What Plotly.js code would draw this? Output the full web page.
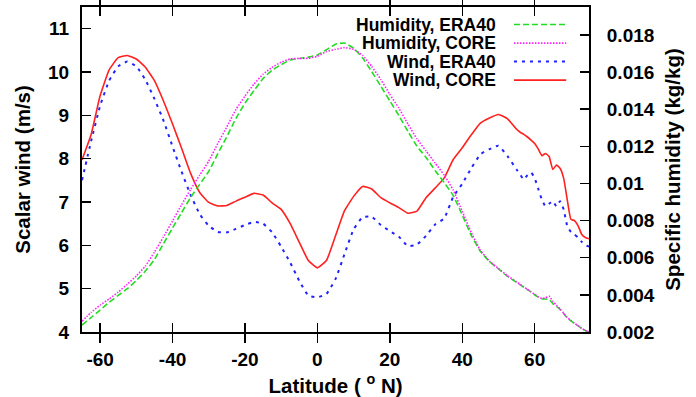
<!DOCTYPE html>
<html>
<head>
<meta charset="utf-8">
<script src="https://cdn.plot.ly/plotly-3.0.1.min.js"></script>
<style>html,body{margin:0;padding:0;background:#fff;}#chart{width:696px;height:397px;}</style>
</head>
<body>
<div id="chart"></div>
<script>
var latitude = [-65,-62.5,-60,-57.5,-55,-52.5,-50,-47.5,-45,-42.5,-40,-37.5,-35,-32.5,-30,-27.5,-25,-22.5,-20,-17.5,-15,-12.5,-10,-7.5,-5,-2.5,0,2.5,5,7.5,10,12.5,15,17.5,20,22.5,25,27.5,30,32.5,35,37.5,40,42.5,45,47.5,50,52.5,55,56,57,58,59,60,61,62,63,64,65,66,67,68,69,70,71,72,73,74,75];

var windCORE = [7.97,8.55,9.45,10.05,10.33,10.38,10.30,10.11,9.80,9.33,8.80,8.24,7.66,7.22,6.99,6.91,6.92,7.02,7.11,7.20,7.16,6.98,6.83,6.50,6.07,5.65,5.48,5.65,6.22,6.80,7.13,7.36,7.30,7.10,6.98,6.87,6.74,6.79,7.10,7.32,7.55,7.98,8.25,8.55,8.82,8.94,9.02,8.92,8.68,8.61,8.56,8.50,8.43,8.35,8.22,8.07,8.12,8.05,7.75,7.85,7.78,7.55,7.05,6.60,6.57,6.45,6.25,6.18,6.15];

var windERA40 = [7.50,8.40,9.22,9.80,10.13,10.24,10.13,9.82,9.38,8.88,8.28,7.70,7.16,6.72,6.45,6.31,6.30,6.38,6.47,6.54,6.50,6.30,5.97,5.60,5.18,4.84,4.80,4.88,5.22,5.80,6.37,6.65,6.66,6.47,6.33,6.20,5.98,6.02,6.22,6.48,6.62,7.12,7.42,7.78,8.10,8.22,8.30,8.06,7.75,7.63,7.52,7.62,7.68,7.55,7.30,7.05,6.90,6.96,7.02,6.90,7.02,6.83,6.44,6.31,6.25,6.18,6.08,6.00,5.97];

var humidityERA40 = [0.00237,0.00278,0.00318,0.00360,0.00397,0.00433,0.00477,0.00528,0.00590,0.00676,0.00760,0.00843,0.00925,0.00995,0.01065,0.01160,0.01252,0.01350,0.01432,0.01500,0.01565,0.01610,0.01640,0.01664,0.01673,0.01680,0.01692,0.01720,0.01750,0.01756,0.01728,0.01675,0.01602,0.01524,0.01445,0.01365,0.01280,0.01200,0.01140,0.01070,0.01005,0.00935,0.00830,0.00720,0.00635,0.00580,0.00540,0.00499,0.00467,0.00454,0.00441,0.00428,0.00415,0.00400,0.00388,0.00378,0.00378,0.00375,0.00353,0.00338,0.00322,0.00300,0.00275,0.00260,0.00246,0.00233,0.00218,0.00208,0.00200];

var humidityCORE = [0.00258,0.00305,0.00345,0.00378,0.00415,0.00457,0.00502,0.00555,0.00630,0.00712,0.00798,0.00885,0.00968,0.01045,0.01120,0.01215,0.01305,0.01398,0.01470,0.01535,0.01588,0.01625,0.01653,0.01670,0.01673,0.01674,0.01685,0.01710,0.01722,0.01731,0.01722,0.01690,0.01630,0.01560,0.01480,0.01405,0.01320,0.01240,0.01175,0.01110,0.01045,0.00965,0.00850,0.00735,0.00640,0.00582,0.00542,0.00503,0.00470,0.00456,0.00443,0.00430,0.00417,0.00402,0.00390,0.00380,0.00385,0.00393,0.00365,0.00345,0.00325,0.00302,0.00278,0.00262,0.00247,0.00234,0.00219,0.00208,0.00200];

var seriesNames = ['Humidity, ERA40', 'Humidity, CORE', 'Wind, ERA40', 'Wind, CORE'];
var xTicks = [-60,-40,-20,0,20,40,60];
var windTicks = [4,5,6,7,8,9,10,11];
var humidityTicks = [0.002,0.004,0.006,0.008,0.01,0.012,0.014,0.016,0.018];

var styles = [
  {color:'#22dd22', dash:'6px,3px', width:1.6},
  {color:'#ff22ff', dash:'1.5px,1.5px', width:1.6},
  {color:'#2222ff', dash:'3px,5px', width:2},
  {color:'#ff2020', dash:'solid', width:1.6}
];

var F = 'Liberation Sans, Arial, Helvetica, sans-serif';

var traces = [
  {x: latitude, y: humidityERA40, yaxis:'y2', name: seriesNames[0]},
  {x: latitude, y: humidityCORE, yaxis:'y2', name: seriesNames[1]},
  {x: latitude, y: windERA40, yaxis:'y', name: seriesNames[2]},
  {x: latitude, y: windCORE, yaxis:'y', name: seriesNames[3]}
].map(function(t, i){
  t.type = 'scatter'; t.mode = 'lines'; t.showlegend = false;
  t.line = {color: styles[i].color, dash: styles[i].dash, width: styles[i].width, shape:'spline', smoothing:0.4};
  return t;
});

// legend drawn like the original: text right-aligned, sample line on the right
var legendRowsY = [0.946, 0.889, 0.832, 0.775];
var annotations = [], shapes = [];
seriesNames.forEach(function(n, i){
  annotations.push({xref:'paper', yref:'paper', x:0.8205, y:legendRowsY[i], xanchor:'right', yanchor:'middle',
    text:'<b>'+n+'</b>', showarrow:false, font:{family:F, size:17.5, color:'#000'}});
  shapes.push({type:'line', xref:'paper', yref:'paper', x0:0.852, x1:0.955, y0:legendRowsY[i], y1:legendRowsY[i],
    line:{color:styles[i].color, dash:styles[i].dash, width:styles[i].width}});
});

var layout = {
  width:696, height:397,
  margin:{l:82, r:107, t:7, b:65},
  paper_bgcolor:'#fff', plot_bgcolor:'#fff',
  font:{family:F, size:19, color:'#000'},
  xaxis:{
    range:[-65,75], tickvals:xTicks, ticktext:xTicks.map(function(v){return '<b>'+v+'</b>';}),
    ticks:'inside', ticklen:9, tickwidth:1.5, tickcolor:'#000',
    showline:true, linecolor:'#000', linewidth:2, mirror:'allticks',
    showgrid:false, zeroline:false, ticklabelstandoff:9,
    tickfont:{family:F, size:19},
    title:{text:'<b>Latitude ( <sup>o</sup> N)</b>', font:{family:F, size:20.5}, standoff:20}
  },
  yaxis:{
    range:[4,11.5], tickvals:windTicks, ticktext:windTicks.map(function(v){return '<b>'+v+'</b>';}),
    ticks:'inside', ticklen:9, tickwidth:1.5, tickcolor:'#000',
    showline:true, linecolor:'#000', linewidth:2, mirror:true,
    showgrid:false, zeroline:false, ticklabelstandoff:7,
    tickfont:{family:F, size:19},
    title:{text:'<b>Scalar wind (m/s)</b>', font:{family:F, size:20.5}, standoff:12}
  },
  yaxis2:{
    range:[0.002,0.0195], overlaying:'y', side:'right', tickvals:humidityTicks,
    ticktext:humidityTicks.map(function(v){return '<b>'+v+'</b>';}),
    ticks:'inside', ticklen:9, tickwidth:1.5, tickcolor:'#000',
    showline:true, linecolor:'#000', linewidth:2,
    showgrid:false, zeroline:false, ticklabelstandoff:12,
    tickfont:{family:F, size:19},
    title:{text:'<b>Specific humidity (kg/kg)</b>', font:{family:F, size:20.5}, standoff:12}
  },
  annotations: annotations,
  shapes: shapes,
  showlegend:false
};

Plotly.newPlot('chart', traces, layout, {displayModeBar:false, staticPlot:true});
</script>
</body>
</html>
